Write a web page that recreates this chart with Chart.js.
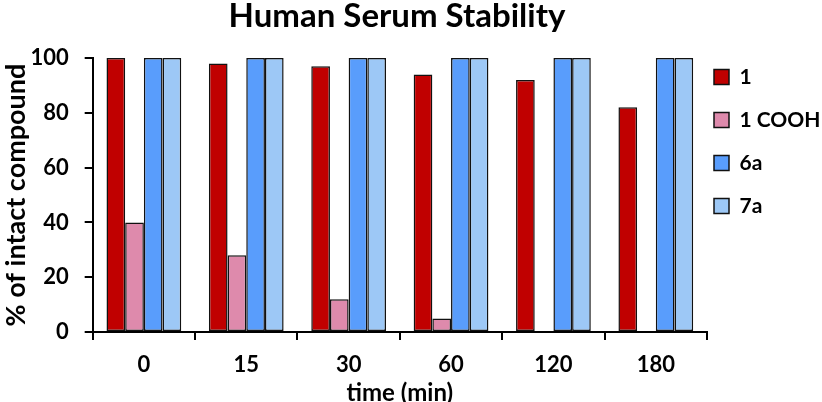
<!DOCTYPE html>
<html>
<head>
<meta charset="utf-8">
<script src="https://cdn.jsdelivr.net/npm/chart.js@4/dist/chart.umd.min.js"></script>
<style>
  html, body { margin: 0; padding: 0; background: #fff; }
  #wrap { width: 822px; height: 402px; }
</style>
</head>
<body>
<div id="wrap"><canvas id="chart" width="822" height="402"></canvas></div>
<script>
// time points (min)
let labels = ['0', '15', '30', '60', '120', '180'];

// % of intact compound
let cmpd1 = [100, 98, 97, 94, 92, 82];
let cmpd1Cooh = [40, 28, 12, 5, 0, 0];
let cmpd6a = [100, 100, 100, 100, 100, 100];
let cmpd7a = [100, 100, 100, 100, 100, 100];

let seriesNames = ['1', '1 COOH', '6a', '7a'];
let yTicks = [0, 20, 40, 60, 80, 100];

let font = 'Lato, "Open Sans", sans-serif';

function bar(label, values, color) {
    return {
        label: label,
        data: values,
        backgroundColor: color,
        borderColor: '#111',
        borderWidth: 1.5,
        borderSkipped: false,
        barPercentage: 1.0,
        categoryPercentage: 0.73
    };
}

// nudge legend and title to where the original figure has them
let placeBoxes = {
    id: 'placeBoxes',
    beforeDraw: function(chart) {
        let area = chart.chartArea;
        let legend = chart.legend;
        let pad = legend.options.labels.padding;
        legend.left = area.right + 7 - pad;
        legend.top = 44.5;
        legend.bottom = chart.height;
        chart.titleBlock.left = 0;
        chart.titleBlock.right = 794;
    }
};

let ctx = document.getElementById('chart').getContext('2d');
let chart = new Chart(ctx, {
    type: 'bar',
    data: {
        labels: labels,
        datasets: [
            bar(seriesNames[0], cmpd1, '#c00000'),
            bar(seriesNames[1], cmpd1Cooh, '#de8aac'),
            bar(seriesNames[2], cmpd6a, '#599dfc'),
            bar(seriesNames[3], cmpd7a, '#9dc8f6')
        ]
    },
    plugins: [placeBoxes],
    options: {
        responsive: false,
        animation: false,
        layout: { padding: { left: -2, right: 0, top: 0, bottom: 0 } },
        plugins: {
            title: {
                display: true,
                text: 'Human Serum Stability',
                color: '#000',
                font: { family: font, size: 33, weight: 'bold', lineHeight: 1.0 },
                padding: { top: 0, bottom: 25 }
            },
            legend: {
                position: 'right',
                align: 'start',
                maxWidth: 115,
                labels: {
                    color: '#000',
                    font: { family: font, size: 21, weight: 'bold' },
                    boxWidth: 15,
                    boxHeight: 15,
                    padding: 22
                }
            },
            tooltip: { enabled: false }
        },
        scales: {
            x: {
                border: { color: '#000', width: 2 },
                grid: {
                    offset: true,
                    drawOnChartArea: false,
                    drawTicks: true,
                    tickLength: 8,
                    color: '#000',
                    lineWidth: 2
                },
                ticks: {
                    color: '#000',
                    font: { family: font, size: 22, weight: 'bold' },
                    padding: 12
                },
                title: {
                    display: true,
                    text: 'time (min)',
                    color: '#000',
                    font: { family: font, size: 24, weight: 'bold', lineHeight: 1.0 },
                    padding: { top: -9.5, bottom: -3 }
                }
            },
            y: {
                min: 0,
                max: 100,
                afterBuildTicks: function(axis) {
                    axis.ticks = yTicks.map(function(v) { return { value: v }; });
                },
                border: { color: '#000', width: 2 },
                grid: {
                    drawOnChartArea: false,
                    drawTicks: true,
                    tickLength: 8,
                    color: '#000',
                    lineWidth: 2
                },
                ticks: {
                    color: '#000',
                    font: { family: font, size: 22, weight: 'bold' },
                    padding: 16
                },
                title: {
                    display: true,
                    text: '% of intact compound',
                    color: '#000',
                    font: { family: font, size: 27, weight: 'bold' },
                    padding: { top: 2, bottom: -18 }
                }
            }
        }
    }
});
</script>
</body>
</html>
